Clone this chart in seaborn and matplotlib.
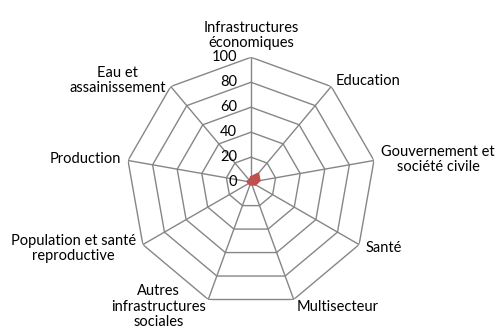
import numpy as np
import matplotlib
matplotlib.use("Agg")
import matplotlib.pyplot as plt
import matplotlib.transforms as mtrans
import seaborn as sns

# Catégories (sens horaire depuis le haut) et valeurs
categories = ["Infrastructures\néconomiques", "Education", "Gouvernement et\nsociété civile",
              "Santé", "Multisecteur", "Autres\ninfrastructures\nsociales",
              "Population et santé\nreproductive", "Production", "Eau et\nassainissement"]
valeurs = [4, 9, 7, 4, 2, 2, 2, 3, 2]
graduations = [0, 20, 40, 60, 80, 100]

sns.set_style("white")
plt.rcParams['font.family'] = ['Lato', 'DejaVu Sans']

n = len(categories)
angles = np.linspace(0, 2 * np.pi, n, endpoint=False)

fig = plt.figure(figsize=(4.97, 3.33), dpi=100)
ax = fig.add_axes([0.505 - 0.375 * 3.33 / 4.97, 0.453 - 0.375, 0.75 * 3.33 / 4.97, 0.75],
                  projection='polar')
ax.set_theta_zero_location('N')
ax.set_theta_direction(-1)
ax.set_ylim(0, 100)
ax.grid(False)
ax.spines['polar'].set_visible(False)
ax.set_xticks([])
ax.set_yticks([])

grid_col = '#868686'
ang_closed = np.append(angles, angles[0])
for g in graduations[1:]:
    ax.plot(ang_closed, [g] * (n + 1), color=grid_col, lw=1, zorder=1)
for a in angles:
    ax.plot([a, a], [0, 100], color=grid_col, lw=1, zorder=1)

# Série de données
vals_closed = valeurs + valeurs[:1]
ax.fill(ang_closed, vals_closed, color='#C0504D', zorder=3)
ax.plot(ang_closed, vals_closed, color='#C0504D', lw=1.5, zorder=3)

# Étiquettes de l'axe radial (décalées à gauche de l'axe vertical)
off = mtrans.offset_copy(ax.transData, fig=fig, x=-10, y=0, units='points')
for g in graduations:
    ax.text(0, g, str(g), transform=off, ha='right', va='center',
            fontsize=10.5, color='#000000')

# Étiquettes des catégories
for a, lab in zip(angles, categories):
    deg = np.degrees(a) % 360
    if deg < 1 or deg > 359:
        ha, va = 'center', 'bottom'
    elif deg < 179:
        ha, va = 'left', 'center'
    elif deg > 181:
        ha, va = 'right', 'center'
    else:
        ha, va = 'center', 'top'
    ax.text(a, 106, lab, ha=ha, va=va, fontsize=10.5, multialignment='center',
            color='#000000', linespacing=1.1)

fig.savefig("out.png", dpi=100)
